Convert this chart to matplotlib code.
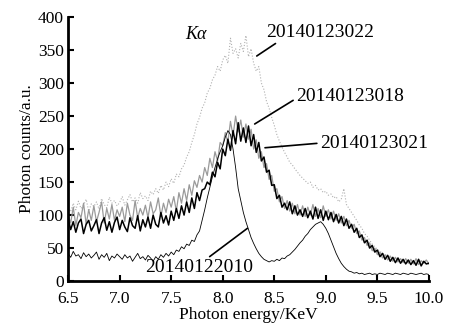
import numpy as np
import matplotlib.pyplot as plt

plt.rcParams['font.family'] = ['Liberation Serif', 'DejaVu Serif']

# energy channels (keV), 0.025 keV step
energy = np.linspace(6.5, 10.0, 141)

# shot 20140123018 (black, thick)
s018 = [95, 78, 90, 74, 88, 94, 72, 86, 92, 76,
        84, 93, 72, 88, 96, 77, 90, 74, 89, 97,
        78, 92, 82, 75, 96, 84, 80, 99, 76, 93,
        82, 97, 80, 100, 86, 82, 104, 88, 99, 85,
        106, 92, 110, 95, 114, 100, 120, 104, 126, 110,
        134, 122, 138, 140, 150, 146, 165, 158, 180, 170,
        200, 190, 215, 198, 228, 208, 240, 212, 232, 210,
        235, 205, 222, 195, 210, 182, 188, 165, 168, 145,
        146, 125, 130, 112, 118, 108, 120, 102, 114, 100,
        108, 98, 110, 96, 106, 94, 112, 95, 108, 92,
        106, 93, 104, 90, 101, 88, 98, 84, 94, 80,
        86, 74, 80, 66, 70, 58, 62, 50, 54, 44,
        47, 37, 42, 33, 39, 30, 36, 28, 35, 27,
        33, 26, 32, 25, 31, 24, 33, 23, 30, 26,
        27]

# shot 20140123021 (grey)
s021 = [100, 88, 112, 84, 104, 96, 118, 86, 108, 92,
        114, 90, 104, 120, 88, 110, 94, 116, 92, 108,
        98, 112, 90, 118, 100, 92, 122, 96, 110, 100,
        115, 96, 120, 102, 108, 126, 98, 118, 104, 124,
        112, 128, 106, 134, 118, 140, 122, 146, 130, 152,
        142, 160, 150, 172, 160, 186, 172, 196, 182, 210,
        205, 225, 210, 242, 220, 250, 226, 244, 218, 238,
        215, 230, 200, 214, 186, 196, 172, 178, 154, 160,
        136, 140, 120, 128, 110, 122, 106, 118, 102, 116,
        100, 114, 98, 112, 100, 116, 98, 110, 96, 114,
        98, 108, 94, 106, 92, 102, 88, 98, 84, 92,
        80, 86, 72, 76, 62, 66, 54, 58, 46, 50,
        40, 44, 35, 40, 32, 38, 30, 36, 29, 34,
        28, 34, 27, 33, 26, 34, 25, 31, 27, 32,
        26]

# shot 20140123022 (light grey, dotted)
s022 = [112, 105, 118, 108, 121, 110, 115, 124, 106, 117,
        113, 120, 109, 125, 116, 111, 127, 118, 122, 114,
        119, 128, 115, 123, 131, 120, 126, 118, 134, 125,
        129, 122, 136, 131, 140, 133, 145, 138, 150, 143,
        155, 148, 162, 158, 170, 176, 188, 196, 210, 222,
        238, 248, 262, 270, 285, 292, 305, 312, 325, 318,
        335, 342, 330, 368, 345, 352, 338, 360, 348, 372,
        340, 352, 330, 318, 325, 300, 290, 272, 262, 248,
        236, 222, 212, 203, 195, 188, 180, 176, 170, 165,
        160, 156, 152, 148, 150, 142, 145, 138, 140, 134,
        136, 130, 132, 126, 128, 120, 124, 140, 116, 110,
        104, 98, 92, 85, 80, 72, 68, 62, 56, 52,
        48, 45, 42, 40, 38, 36, 35, 33, 34, 31,
        32, 30, 31, 29, 30, 28, 29, 27, 28, 26,
        27]

# shot 20140122010 (black, thin)
s010 = [42, 36, 45, 38, 40, 34, 43, 37, 41, 35,
        39, 44, 33, 40, 36, 42, 31, 38, 35, 41,
        37, 33, 40, 35, 38, 30, 36, 42, 34, 37,
        32, 39, 35, 30, 37, 33, 40, 36, 42, 38,
        44, 40, 47, 45, 52, 49, 56, 54, 62, 60,
        70, 76, 92, 108, 126, 142, 158, 172, 185, 196,
        205, 218, 228, 222, 200, 172, 140, 122, 104, 90,
        78, 66, 57, 49, 42, 37, 33, 31, 29, 31,
        30, 33, 31, 35, 34, 38, 40, 44, 48, 53,
        58, 62, 68, 72, 78, 82, 86, 88, 90, 86,
        80, 72, 62, 52, 42, 34, 27, 22, 18, 15,
        14, 12, 13, 11, 12, 10, 11, 12, 10, 11,
        10, 12, 11, 10, 12, 11, 10, 12, 11, 10,
        12, 11, 10, 12, 11, 10, 11, 12, 10, 11,
        10]

fig = plt.figure(figsize=(4.51, 3.28), dpi=100)
ax = fig.add_axes([0.151, 0.143, 0.80, 0.805])

ax.plot(energy, s022, color='#b0b0b0', lw=0.8, ls=':')
ax.plot(energy, s021, color='#9a9a9a', lw=0.9)
ax.plot(energy, s018, color='black', lw=1.1)
ax.plot(energy, s010, color='black', lw=0.6)

# labels with leader lines
lead = dict(arrowstyle='-', color='black', lw=1.2, shrinkA=0, shrinkB=0)
ax.annotate('20140123022', xy=(8.33, 341), xytext=(8.42, 377),
            fontsize=14, va='center', arrowprops=dict(lead, relpos=(0.15, 0.1)))
ax.annotate('20140123018', xy=(8.31, 238), xytext=(8.71, 279),
            fontsize=14, va='center', arrowprops=dict(lead, relpos=(0.0, 0.4)))
ax.annotate('20140123021', xy=(8.41, 202), xytext=(8.94, 209),
            fontsize=14, va='center', arrowprops=dict(lead, relpos=(0.0, 0.5)))
ax.annotate('20140122010', xy=(8.24, 80), xytext=(7.25, 20),
            fontsize=14, va='center', arrowprops=dict(lead, relpos=(0.55, 0.95)))
ax.text(7.74, 373, 'Kα', fontsize=13, style='italic', ha='center', va='center')

ax.set_xlim(6.5, 10.0)
ax.set_ylim(0, 400)
ax.set_xticks([6.5, 7.0, 7.5, 8.0, 8.5, 9.0, 9.5, 10.0])
ax.set_yticks(np.arange(0, 401, 50))
ax.set_xlabel('Photon energy/KeV', fontsize=12.5, labelpad=0)
ax.set_ylabel('Photon counts/a.u.', fontsize=12.5, labelpad=2)

ax.spines['top'].set_visible(False)
ax.spines['right'].set_visible(False)
ax.spines['left'].set_linewidth(2)
ax.spines['bottom'].set_linewidth(2)
ax.tick_params(direction='in', length=4, width=1.5, labelsize=12.5)
ax.tick_params(axis='x', pad=7)
ax.tick_params(axis='y', pad=3)

fig.savefig('out.png', dpi=100)
